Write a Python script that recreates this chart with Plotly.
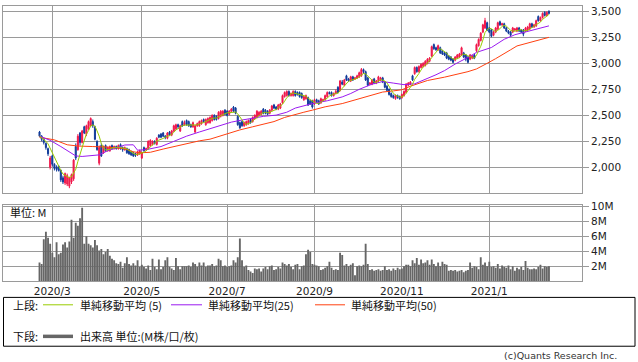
import plotly.graph_objects as go
import pandas as pd

W, H = 638, 362

# ---- data ----
tick_days = [6, 48, 88, 129, 170, 211]
tick_labels = ["2020/3", "2020/5", "2020/7", "2020/9", "2020/11", "2021/1"]

open_ = [
    2340, 2300, 2270, 2230, 2180, 2000, 2110, 2030, 2000, 2010,
    1970, 1900, 1850, 1840, 1820, 1860, 1890, 2200, 2170, 2330,
    2240, 2390, 2320, 2370, 2400, 2440, 2390, 2250, 2040, 2210,
    2140, 2210, 2170, 2160, 2210, 2190, 2200, 2180, 2220, 2190,
    2170, 2180, 2170, 2150, 2140, 2130, 2120, 2130, 2090, 2190,
    2170, 2180, 2210, 2220, 2250, 2220, 2310, 2320, 2330, 2300,
    2280, 2340, 2310, 2350, 2370, 2410, 2350, 2440, 2410, 2450,
    2440, 2410, 2390, 2340, 2400, 2400, 2420, 2460, 2410, 2430,
    2430, 2450, 2500, 2490, 2470, 2490, 2500, 2550, 2540, 2510,
    2540, 2580, 2570, 2490, 2430, 2440, 2400, 2410, 2420, 2460,
    2440, 2470, 2480, 2500, 2510, 2560, 2550, 2540, 2520, 2550,
    2600, 2580, 2560, 2570, 2620, 2680, 2690, 2730, 2690, 2690,
    2730, 2720, 2720, 2710, 2650, 2660, 2670, 2640, 2640, 2610,
    2650, 2640, 2620, 2640, 2650, 2680, 2720, 2720, 2690, 2710,
    2770, 2740, 2820, 2790, 2880, 2850, 2830, 2870, 2850, 2860,
    2870, 2880, 2940, 2920, 2860, 2800, 2800, 2850, 2810, 2830,
    2840, 2860, 2820, 2780, 2750, 2710, 2690, 2660, 2690, 2680,
    2670, 2690, 2720, 2790, 2800, 2880, 2900, 2960, 2920, 2960,
    2970, 2980, 3000, 3020, 3070, 3180, 3150, 3130, 3150, 3120,
    3100, 3100, 3070, 3060, 3040, 3030, 3050, 3060, 3080, 3100,
    3080, 3060, 3040, 3050, 3080, 3120, 3170, 3220, 3300, 3340,
    3390, 3340, 3320, 3270, 3300, 3330, 3400, 3370, 3380, 3340,
    3310, 3300, 3300, 3320, 3310, 3340, 3320, 3320, 3310, 3320,
    3330, 3380, 3350, 3360, 3450, 3410, 3440, 3490, 3460, 3500,
]
close = [
    2300, 2270, 2240, 2190, 2130, 2090, 2030, 1990, 1980, 1970,
    1880, 1860, 1940, 1920, 1900, 1930, 2070, 2090, 2300, 2240,
    2350, 2330, 2400, 2440, 2470, 2400, 2270, 2170, 2190, 2110,
    2200, 2160, 2190, 2200, 2180, 2200, 2180, 2210, 2180, 2170,
    2190, 2140, 2130, 2120, 2110, 2115, 2150, 2160, 2140, 2160,
    2180, 2250, 2260, 2250, 2230, 2280, 2290, 2290, 2300, 2290,
    2330, 2310, 2350, 2400, 2410, 2390, 2400, 2400, 2430, 2410,
    2400, 2390, 2430, 2400, 2420, 2440, 2450, 2440, 2460, 2470,
    2480, 2500, 2460, 2460, 2530, 2540, 2540, 2510, 2500, 2540,
    2560, 2540, 2520, 2410, 2380, 2400, 2430, 2440, 2450, 2430,
    2480, 2500, 2540, 2530, 2540, 2520, 2520, 2510, 2550, 2590,
    2570, 2560, 2600, 2610, 2690, 2720, 2730, 2690, 2710, 2730,
    2690, 2700, 2680, 2670, 2680, 2690, 2600, 2610, 2580, 2650,
    2630, 2610, 2660, 2650, 2690, 2720, 2710, 2690, 2710, 2730,
    2720, 2830, 2800, 2840, 2840, 2830, 2870, 2840, 2860, 2880,
    2910, 2940, 2920, 2840, 2790, 2810, 2840, 2810, 2830, 2870,
    2860, 2820, 2770, 2740, 2700, 2680, 2670, 2690, 2670, 2660,
    2700, 2730, 2800, 2810, 2820, 2840, 2960, 2920, 2970, 2990,
    3000, 3020, 3040, 3050, 3160, 3140, 3130, 3170, 3100, 3090,
    3080, 3050, 3040, 3030, 3010, 3060, 3080, 3090, 3150, 3060,
    3040, 3010, 3080, 3070, 3050, 3180, 3230, 3290, 3370, 3410,
    3320, 3300, 3260, 3300, 3340, 3390, 3370, 3380, 3340, 3310,
    3290, 3270, 3340, 3330, 3340, 3310, 3300, 3280, 3340, 3350,
    3380, 3350, 3370, 3410, 3410, 3440, 3480, 3460, 3490, 3480,
]
high = [
    2350, 2310, 2280, 2240, 2190, 2110, 2120, 2040, 2020, 2020,
    1980, 1920, 1950, 1940, 1910, 1940, 2080, 2230, 2320, 2340,
    2360, 2400, 2410, 2450, 2480, 2460, 2400, 2260, 2210, 2230,
    2210, 2220, 2200, 2210, 2220, 2210, 2210, 2220, 2230, 2200,
    2200, 2190, 2180, 2160, 2150, 2140, 2160, 2170, 2150, 2200,
    2190, 2260, 2270, 2260, 2260, 2290, 2320, 2330, 2340, 2310,
    2340, 2350, 2360, 2410, 2420, 2420, 2410, 2450, 2450, 2460,
    2450, 2420, 2440, 2410, 2430, 2450, 2460, 2470, 2470, 2480,
    2490, 2510, 2510, 2500, 2540, 2550, 2550, 2560, 2550, 2550,
    2570, 2590, 2580, 2500, 2440, 2450, 2440, 2450, 2460, 2470,
    2490, 2510, 2550, 2540, 2550, 2570, 2560, 2550, 2560, 2600,
    2610, 2590, 2610, 2620, 2700, 2730, 2740, 2740, 2720, 2740,
    2740, 2730, 2730, 2720, 2690, 2700, 2680, 2650, 2650, 2660,
    2660, 2650, 2670, 2660, 2700, 2730, 2730, 2730, 2720, 2750,
    2780, 2840, 2840, 2850, 2890, 2860, 2880, 2880, 2870, 2890,
    2920, 2955, 2950, 2930, 2870, 2820, 2850, 2860, 2840, 2880,
    2870, 2870, 2830, 2790, 2760, 2720, 2700, 2700, 2700, 2690,
    2710, 2740, 2810, 2820, 2830, 2890, 2970, 2970, 2980, 3000,
    3010, 3030, 3050, 3060, 3170, 3190, 3160, 3180, 3160, 3130,
    3110, 3110, 3080, 3070, 3050, 3070, 3090, 3100, 3160, 3110,
    3090, 3070, 3090, 3080, 3090, 3190, 3240, 3300, 3380, 3437,
    3400, 3350, 3330, 3310, 3350, 3400, 3410, 3390, 3390, 3350,
    3320, 3310, 3350, 3340, 3350, 3350, 3330, 3330, 3350, 3360,
    3390, 3390, 3380, 3420, 3460, 3450, 3490, 3500, 3500, 3510,
]
low = [
    2290, 2250, 2220, 2170, 2110, 1980, 2010, 1970, 1960, 1960,
    1860, 1840, 1830, 1820, 1800, 1840, 1870, 2070, 2160, 2210,
    2230, 2320, 2300, 2360, 2390, 2380, 2260, 2160, 2020, 2100,
    2130, 2150, 2150, 2150, 2170, 2170, 2170, 2170, 2170, 2150,
    2160, 2130, 2120, 2110, 2100, 2100, 2110, 2120, 2080, 2150,
    2160, 2170, 2200, 2210, 2220, 2210, 2280, 2280, 2290, 2270,
    2270, 2300, 2300, 2340, 2360, 2370, 2340, 2390, 2400, 2400,
    2390, 2380, 2380, 2330, 2390, 2390, 2410, 2430, 2400, 2420,
    2420, 2440, 2450, 2450, 2460, 2480, 2490, 2500, 2490, 2500,
    2530, 2530, 2510, 2400, 2370, 2390, 2390, 2400, 2410, 2420,
    2430, 2460, 2470, 2490, 2500, 2510, 2510, 2500, 2510, 2540,
    2560, 2550, 2550, 2560, 2610, 2670, 2680, 2680, 2680, 2680,
    2680, 2690, 2670, 2660, 2640, 2650, 2590, 2600, 2565, 2600,
    2620, 2600, 2610, 2630, 2640, 2670, 2700, 2680, 2680, 2700,
    2710, 2730, 2790, 2780, 2830, 2820, 2820, 2830, 2840, 2850,
    2860, 2870, 2900, 2830, 2780, 2790, 2790, 2800, 2800, 2820,
    2830, 2810, 2760, 2730, 2690, 2670, 2660, 2650, 2660, 2650,
    2660, 2680, 2710, 2780, 2790, 2830, 2890, 2910, 2910, 2950,
    2960, 2970, 2990, 3010, 3060, 3130, 3120, 3120, 3090, 3080,
    3070, 3040, 3030, 3020, 3000, 3020, 3040, 3050, 3070, 3050,
    3020, 3000, 3030, 3040, 3040, 3110, 3160, 3210, 3290, 3330,
    3310, 3290, 3250, 3260, 3290, 3320, 3360, 3360, 3330, 3300,
    3280, 3260, 3290, 3310, 3300, 3300, 3290, 3260, 3300, 3310,
    3320, 3340, 3340, 3350, 3400, 3400, 3430, 3450, 3450, 3470,
]
volume_m = [
    2.5, 2.3, 5.6, 6.6, 5.8, 5.0, 3.8, 3.2, 5.2, 3.6,
    3.8, 4.9, 5.2, 4.5, 5.3, 8.2, 5.8, 7.8, 7.4, 8.4,
    9.8, 5.0, 6.0, 5.0, 4.8, 4.5, 5.5, 4.8, 4.1, 4.3,
    3.6, 3.9, 4.3, 3.4, 3.0, 2.8, 2.4, 2.3, 2.6, 1.8,
    2.4, 3.2, 2.3, 2.1, 2.4, 2.1, 2.8, 1.9, 2.2, 1.9,
    1.7, 2.1, 1.5, 3.0, 1.9, 1.6, 2.9, 1.6, 1.9, 2.8,
    3.2, 1.9, 1.7, 1.5, 3.1, 2.0, 1.6, 2.0, 2.0, 2.0,
    2.1, 1.9, 2.5, 2.3, 1.9, 2.5, 2.1, 2.5, 1.9, 2.1,
    2.1, 2.3, 2.0, 2.1, 3.0, 2.8, 2.0, 2.1, 1.9, 2.0,
    2.1, 2.8, 2.5, 3.2, 5.7, 2.8, 1.9, 2.1, 1.5, 1.3,
    1.1, 1.7, 1.6, 1.7, 1.3, 1.7, 1.9, 1.6, 2.0, 2.1,
    1.5, 1.6, 1.9, 1.7, 2.5, 2.3, 2.1, 2.3, 1.9, 1.6,
    2.2, 2.3, 1.6, 2.0, 2.1, 3.6, 4.2, 3.9, 2.3, 2.2,
    2.1, 2.0, 1.5, 1.6, 1.8, 2.0, 2.6, 1.8, 1.5, 1.6,
    1.5, 3.8, 3.5, 2.1, 2.3, 2.0, 2.2, 2.4, 0.8, 2.0,
    2.1, 2.0, 2.2, 5.0, 2.3, 1.5, 1.6, 1.4, 1.5, 1.6,
    1.4, 1.5, 2.0, 1.5, 1.6, 1.4, 1.7, 1.5, 1.8, 1.6,
    1.7, 2.0, 2.2, 2.2, 2.0, 2.8, 2.4, 3.1, 2.2, 2.9,
    2.4, 2.5, 2.8, 2.2, 2.9, 2.3, 2.0, 2.5, 2.0, 2.6,
    2.3, 2.2, 1.4, 1.5, 1.4, 1.5, 1.3, 1.4, 1.5, 1.2,
    1.4, 1.5, 2.5, 1.8, 2.0, 1.9, 1.6, 3.2, 2.2, 2.5,
    2.0, 2.6, 1.9, 2.0, 1.8, 2.3, 1.7, 2.1, 1.9, 1.8,
    2.1, 1.6, 2.0, 1.4, 1.8, 1.6, 1.9, 1.5, 2.7, 1.8,
    1.6, 1.6, 1.7, 1.6, 1.9, 2.2, 1.7, 2.0, 1.9, 2.0,
]

ma25_days = [0, 5, 10, 14, 17, 20, 24, 28, 32, 36, 40, 44, 46, 50, 53, 57, 63, 69,
             75, 80, 85, 90, 95, 100, 105, 111, 116, 120, 124, 128, 135, 142, 146,
             150, 156, 161, 166, 171, 176, 182, 186, 190, 195, 201, 205, 212, 218,
             223, 228, 231, 235, 239]
ma25_vals = [2300, 2260, 2200, 2150, 2110, 2105, 2110, 2120, 2160, 2185, 2215, 2217,
             2165, 2170, 2180, 2200, 2250, 2300, 2340, 2370, 2405, 2435, 2455, 2475,
             2490, 2502, 2530, 2570, 2590, 2613, 2640, 2677, 2710, 2750, 2800, 2825,
             2810, 2795, 2803, 2851, 2890, 2930, 2993, 3057, 3105, 3152, 3231, 3275,
             3300, 3316, 3335, 3360]
ma50_days = [0, 7, 13, 18, 25, 32, 40, 44, 47, 52, 58, 64, 69, 75, 80, 87, 94, 100,
             105, 110, 115, 120, 124, 128, 134, 142, 150, 155, 161, 166, 170, 174,
             178, 182, 190, 196, 201, 205, 208, 210, 214, 218, 221, 224, 230, 235, 239]
ma50_vals = [2290, 2264, 2217, 2205, 2200, 2195, 2180, 2150, 2140, 2145, 2176, 2205,
             2233, 2255, 2271, 2315, 2360, 2390, 2415, 2440, 2480, 2510, 2530, 2550,
             2582, 2613, 2660, 2690, 2724, 2735, 2746, 2780, 2810, 2835, 2867, 2895,
             2920, 2946, 2975, 3000, 3045, 3090, 3130, 3167, 3200, 3230, 3250]

price_ticks = [2000, 2250, 2500, 2750, 3000, 3250, 3500]
vol_ticks = [2, 4, 6, 8, 10]
vol_tick_labels = ["2M", "4M", "6M", "8M", "10M"]

# ---- styling ----
RED = "#F0184B"
BLUE = "#123C9A"
C_MA5 = "#99CC00"
C_MA25 = "#9A1AF0"
C_MA50 = "#FF4010"
C_VOL = "#666666"
GRID = "#9A9A9A"
NUM_FONT = "DejaVu Sans, Verdana, sans-serif"
JP_FONT = "Noto Sans CJK JP, sans-serif"

days = list(range(len(close)))
ma5 = pd.Series(close).rolling(5, min_periods=1).mean().tolist()


def px(x):
    return x / W


def py(y):
    return 1 - y / H


x_left, x_right = 3, 582
xr = [-17.13, 254.5]

fig = go.Figure()
fig.add_trace(go.Candlestick(
    x=days, open=open_, high=high, low=low, close=close,
    increasing=dict(line=dict(color=RED, width=1), fillcolor=RED),
    decreasing=dict(line=dict(color=BLUE, width=1), fillcolor=BLUE),
    whiskerwidth=0, xaxis="x", yaxis="y", showlegend=False, hoverinfo="skip"))
fig.add_trace(go.Scatter(x=ma50_days, y=ma50_vals, mode="lines",
                         line=dict(color=C_MA50, width=1), xaxis="x", yaxis="y",
                         showlegend=False, hoverinfo="skip"))
fig.add_trace(go.Scatter(x=ma25_days, y=ma25_vals, mode="lines",
                         line=dict(color=C_MA25, width=1), xaxis="x", yaxis="y",
                         showlegend=False, hoverinfo="skip"))
fig.add_trace(go.Scatter(x=days, y=ma5, mode="lines",
                         line=dict(color=C_MA5, width=1), xaxis="x", yaxis="y",
                         showlegend=False, hoverinfo="skip"))
fig.add_trace(go.Bar(x=days, y=volume_m, marker=dict(color=C_VOL, line=dict(width=0)),
                     xaxis="x2", yaxis="y2", showlegend=False, hoverinfo="skip"))

axis_common = dict(showgrid=True, gridcolor=GRID, gridwidth=1, showline=True,
                   linecolor=GRID, linewidth=1, mirror=True, zeroline=False,
                   fixedrange=True)

fig.update_layout(
    width=W, height=H, margin=dict(l=0, r=0, t=0, b=0),
    paper_bgcolor="white", plot_bgcolor="white", bargap=0.12,
    xaxis=dict(domain=[px(x_left), px(x_right)], range=xr, anchor="y",
               tickvals=tick_days, showticklabels=False, ticks="",
               rangeslider=dict(visible=False), **axis_common),
    yaxis=dict(domain=[py(190.7), py(0.7)], range=[1753, 3554], side="right",
               anchor="x", tickvals=price_ticks, tickformat=",d", ticks="outside",
               ticklen=6, tickcolor=GRID,
               tickfont=dict(family=NUM_FONT, size=10.5, color="#222"), **axis_common),
    xaxis2=dict(domain=[px(x_left), px(x_right)], range=xr, anchor="y2",
                tickvals=tick_days, ticktext=tick_labels, ticks="",
                tickfont=dict(family=NUM_FONT, size=10.5, color="#222"), **axis_common),
    yaxis2=dict(domain=[py(280), py(202.3)], range=[0, 10.24], side="right",
                anchor="x2", tickvals=vol_ticks, ticktext=vol_tick_labels,
                ticks="outside", ticklen=6, tickcolor=GRID,
                tickfont=dict(family=NUM_FONT, size=10.5, color="#222"), **axis_common),
)

shapes = []
annotations = []

# legend box
shapes.append(dict(type="rect", xref="paper", yref="paper",
                   x0=px(3.5), x1=px(635), y0=py(346), y1=py(296.5),
                   line=dict(color="black", width=1), fillcolor="rgba(0,0,0,0)"))


def legend_line(x0, x1, y, color, width):
    shapes.append(dict(type="line", xref="paper", yref="paper",
                       x0=px(x0), x1=px(x1), y0=py(y), y1=py(y),
                       line=dict(color=color, width=width)))


def text(x, y, s, size=11, family=JP_FONT, anchor="left", color="#111"):
    annotations.append(dict(x=px(x), y=py(y), xref="paper", yref="paper", text=s,
                            showarrow=False, xanchor=anchor, yanchor="middle",
                            font=dict(family=family, size=size, color=color)))


text(11, 304, "上段:")
legend_line(43, 73, 304, C_MA5, 1)
text(78, 304, "単純移動平均 (5)")
legend_line(171, 202, 304, C_MA25, 1)
text(206, 304, "単純移動平均(25)")
legend_line(315, 345, 304, C_MA50, 1)
text(349, 304, "単純移動平均(50)")
text(11, 336, "下段:")
legend_line(43, 73, 336, C_VOL, 3.5)
text(78, 336, "出来高 単位:(M株/口/枚)")

text(8, 210, "単位: M")
text(619, 355, "(c)Quants Research Inc.", size=9.5, family=NUM_FONT,
     anchor="right", color="#333")

fig.update_layout(shapes=shapes, annotations=annotations)
fig.write_html("out.html",
               config={"displayModeBar": False, "staticPlot": True},
               post_script="document.body.style.margin='0px';"
                           "document.body.style.overflow='hidden';")
